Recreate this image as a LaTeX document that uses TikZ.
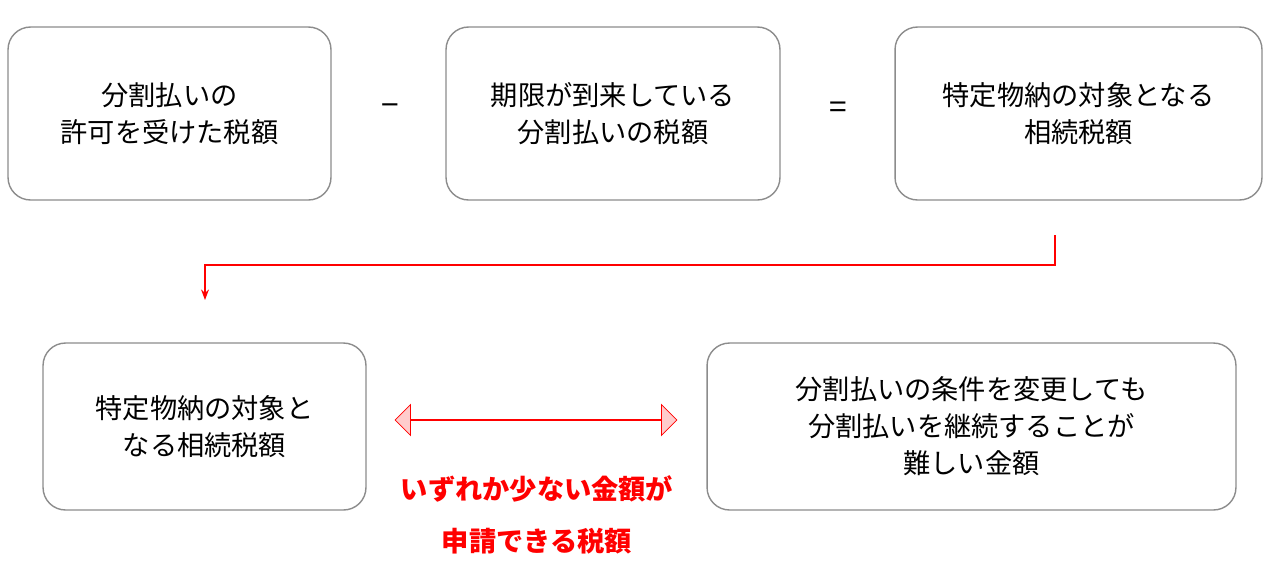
\documentclass[tikz,border=0pt]{standalone}
\usepackage{fontspec}
\setmainfont{Noto Sans CJK JP}
\usetikzlibrary{shapes.arrows,arrows.meta}
\begin{document}
\begin{tikzpicture}[x=0.02cm,y=-0.02cm,
  box/.style={draw=black!45, thick, rounded corners=0.45cm, align=center, font=\fontsize{15.5}{21}\selectfont},
  op/.style={font=\fontsize{18}{20}\selectfont}]
\useasboundingbox (0,0) rectangle (1280,562);
\node[box, minimum width=6.46cm, minimum height=3.46cm] (b1) at (169.5,113.5) {分割払いの\\許可を受けた税額};
\node[box, minimum width=6.68cm, minimum height=3.46cm] (b2) at (613,113.5) {期限が到来している\\分割払いの税額};
\node[box, minimum width=7.34cm, minimum height=3.46cm] (b3) at (1078.5,113.5) {特定物納の対象となる\\相続税額};
\node[op] (minus) at (390,110) {−};
\node[op] (eq) at (838,110) {=};
\node[box, minimum width=6.46cm, minimum height=3.34cm] (b4) at (204.5,426.5) {特定物納の対象と\\なる相続税額};
\node[box, minimum width=10.58cm, minimum height=3.34cm] (b5) at (971.5,426.5) {分割払いの条件を変更しても\\分割払いを継続することが\\難しい金額};
\node[double arrow, draw=red, fill=red!20, minimum width=0.62cm, double arrow head extend=0.25cm, minimum height=5.64cm, inner sep=0pt] (both) at (536,420) {};
\node[text=red, font=\fontsize{15.5}{30}\selectfont\bfseries, align=center] (note) at (537,515) {いずれか少ない金額が\\申請できる税額};
\coordinate (from) at (1055,235);
\coordinate (to) at (205,300);
\draw[red, thick, -{Stealth[length=6pt]}] (from) |- (630,265) -| (to);
\end{tikzpicture}
\end{document}
